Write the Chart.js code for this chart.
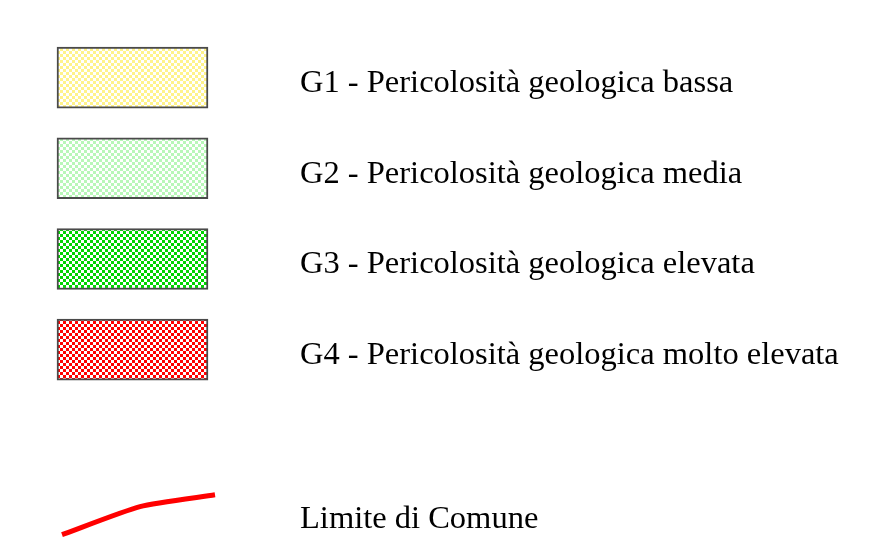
<!DOCTYPE html>
<html>
<head>
<meta charset="utf-8">
<script src="https://cdn.jsdelivr.net/npm/chart.js@4"></script>
<style>
  html, body { margin: 0; padding: 0; background: #fff; }
  #wrap { width: 891px; height: 559px; }
</style>
</head>
<body>
<div id="wrap"><canvas id="legendChart" width="891" height="559"></canvas></div>
<script>
// legend entries (hazard classes)
const classes = ["G1", "G2", "G3", "G4"];
const descriptions = [
  "Pericolosità geologica bassa",
  "Pericolosità geologica media",
  "Pericolosità geologica elevata",
  "Pericolosità geologica molto elevata"
];
const rows = [0, 1, 2, 3];
const swatchColors = ["#fff38a", "#b8f7b8", "#00d400", "#ff0000"];

// municipal boundary sample line
const boundaryLabel = "Limite di Comune";
const boundaryX = [62, 140, 215];
const boundaryY = [5.04, 4.73, 4.60];
const boundaryRow = 4.81;

function checker(color) {
  const c = document.createElement("canvas");
  c.width = 6; c.height = 6;
  const g = c.getContext("2d");
  g.fillStyle = "#ffffff";
  g.fillRect(0, 0, 6, 6);
  g.fillStyle = color;
  g.fillRect(0, 0, 3, 3);
  g.fillRect(3, 3, 3, 3);
  return g.createPattern(c, "repeat");
}

const textLabels = {
  id: "textLabels",
  afterDatasetsDraw(chart) {
    const ctx = chart.ctx;
    const xs = chart.scales.x, ys = chart.scales.y;
    ctx.save();
    ctx.fillStyle = "#000";
    ctx.font = "32.5px 'Liberation Serif', 'Times New Roman', serif";
    ctx.textBaseline = "alphabetic";
    rows.forEach((r, i) => {
      ctx.fillText(classes[i] + " - " + descriptions[i], xs.getPixelForValue(300), ys.getPixelForValue(r) + 14.5);
    });
    ctx.fillText(boundaryLabel, xs.getPixelForValue(300), ys.getPixelForValue(boundaryRow) + 14.5);
    ctx.restore();
  }
};

new Chart(document.getElementById("legendChart"), {
  type: "bar",
  data: {
    datasets: [
      {
        type: "bar",
        indexAxis: "y",
        data: rows.map(r => ({ x: [57, 208], y: r })),
        backgroundColor: swatchColors.map(checker),
        borderColor: "#4a4a4a",
        borderWidth: 2,
        borderSkipped: false,
        barThickness: 61
      },
      {
        type: "line",
        data: boundaryX.map((x, i) => ({ x: x, y: boundaryY[i] })),
        borderColor: "#ff0000",
        borderWidth: 5,
        pointRadius: 0,
        tension: 0.2,
        fill: false
      }
    ]
  },
  options: {
    responsive: false,
    animation: false,
    layout: { padding: 0 },
    plugins: { legend: { display: false }, tooltip: { enabled: false } },
    scales: {
      x: { type: "linear", min: 0, max: 891, offset: false, display: false },
      y: { type: "linear", reverse: true, min: -0.855, max: 5.308, offset: false, display: false }
    }
  },
  plugins: [textLabels]
});
</script>
</body>
</html>
